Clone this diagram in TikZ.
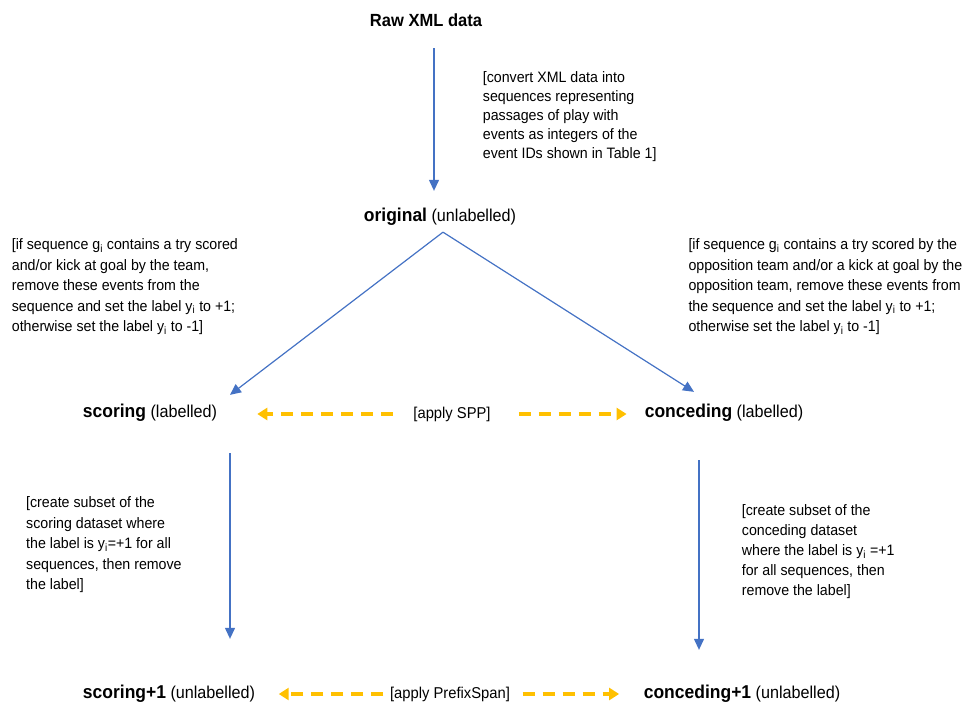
\documentclass[tikz,border=0pt]{standalone}
\usepackage{fontspec}
\setmainfont[FakeStretch=0.94]{Liberation Sans}
\usetikzlibrary{arrows.meta,calc}
\definecolor{blueA}{RGB}{68,114,196}
\definecolor{goldA}{RGB}{255,192,0}
\newcommand\mylabel[2]{{\fontsize{18.6}{22}\selectfont\bfseries #1}{\fontsize{17.2}{22}\selectfont\ (#2)}}
\begin{document}
\begin{tikzpicture}[x=1pt,y=-1pt,
  labelnode/.style={inner sep=0pt, anchor=center},
  txtblock/.style={inner sep=0pt, anchor=north west, align=left, font=\fontsize{15.1}{20.5}\selectfont},
  applynode/.style={inner sep=0pt, anchor=center, font=\fontsize{15.7}{19}\selectfont},
  barrow/.style={draw=blueA, line width=1.2pt, -{Triangle[length=11pt,width=10pt]}},
  garrow/.style={draw=goldA, line width=3.2pt, dash pattern=on 12pt off 8pt, -{Triangle[length=10pt,width=12pt]}}]
\useasboundingbox (0,0) rectangle (970,704);

% main labels
\node[labelnode, font=\fontsize{17.6}{21}\selectfont\bfseries] (raw) at (426,20) {Raw XML data};
\node[labelnode] (orig) at (440,217) {\mylabel{original}{unlabelled}};
\node[labelnode] (scoring) at (150,413) {\mylabel{scoring}{labelled}};
\node[labelnode] (conceding) at (724,413) {\mylabel{conceding}{labelled}};
\node[labelnode] (scp1) at (169,694) {\mylabel{scoring+1}{unlabelled}};
\node[labelnode] (ccp1) at (742,694) {\mylabel{conceding+1}{unlabelled}};
\node[applynode] (spp) at (452,414) {[apply SPP]};
\node[applynode] (ps) at (450,694) {[apply PrefixSpan]};

% text blocks
\node[txtblock, font=\fontsize{15.1}{19.1}\selectfont] (tconv) at (482.7,68.8) {\strut[convert XML data into\\sequences representing\\passages of play with\\events as integers of the\\event IDs shown in Table 1]};
\node[txtblock] (tleft) at (11.7,235.2) {\strut[if sequence g\textsubscript{i} contains a try scored\\and/or kick at goal by the team,\\remove these events from the\\sequence and set the label y\textsubscript{i} to +1;\\otherwise set the label y\textsubscript{i} to -1]};
\node[txtblock] (tright) at (688.3,235.2) {\strut[if sequence g\textsubscript{i} contains a try scored by the\\opposition team and/or a kick at goal by the\\opposition team, remove these events from\\the sequence and set the label y\textsubscript{i} to +1;\\otherwise set the label y\textsubscript{i} to -1]};
\node[txtblock] (tsub1) at (26,493.2) {\strut[create subset of the\\scoring dataset where\\the label is y\textsubscript{i}=+1 for all\\sequences, then remove\\the label]};
\node[txtblock, font=\fontsize{15.1}{20}\selectfont] (tsub2) at (741.7,501.5) {\strut[create subset of the\\conceding dataset\\where the label is y\textsubscript{i} =+1\\for all sequences, then\\remove the label]};

% blue connectors
\draw[barrow] ($(raw.south)+(8,21.6)$) -- ($(orig.north)+(-6,-17.25)$);
\draw[barrow] ($(orig.south)+(3,6.25)$) -- ($(scoring.north)+(80,-9.25)$);
\draw[barrow] ($(orig.south)+(3,6.25)$) -- ($(conceding.north)+(-30,-12.25)$);
\draw[barrow] ($(scoring.south)+(80,31.25)$) -- ($(scp1.north)+(61,-46.25)$);
\draw[barrow] ($(conceding.south)+(-25,38.25)$) -- ($(ccp1.north)+(-43,-35.25)$);

% gold dashed connectors
\draw[garrow] ($(spp.west)+(-20,0)$) -- ($(scoring.east|-spp.west)+(40,0)$);
\draw[garrow] ($(spp.east)+(28,0)$) -- ($(conceding.west|-spp.east)+(-18,0)$);
\draw[garrow] ($(ps.west)+(-6.5,0)$) -- ($(scp1.east|-ps.west)+(23.5,0)$);
\draw[garrow] ($(ps.east)+(12.5,0)$) -- ($(ccp1.west|-ps.east)+(-24.5,0)$);
\end{tikzpicture}
\end{document}
